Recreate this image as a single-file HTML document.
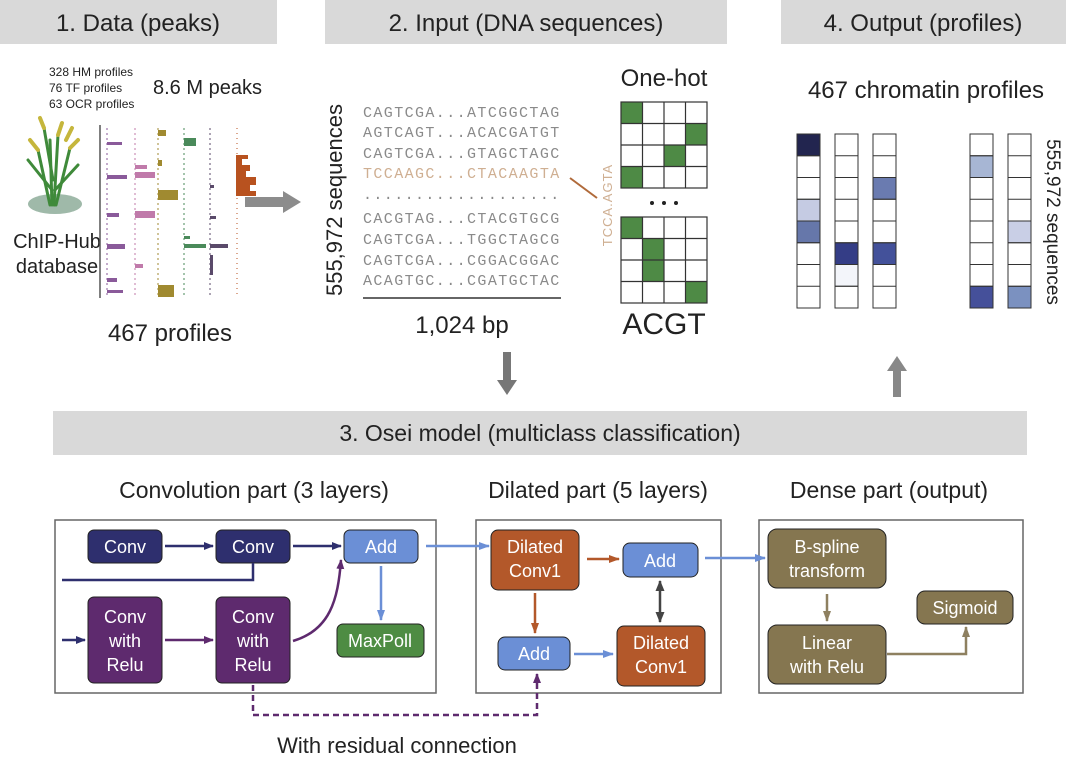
<!DOCTYPE html>
<html><head><meta charset="utf-8"><style>
html,body{margin:0;padding:0;background:#fff;}
svg{display:block;font-family:"Liberation Sans",sans-serif;}
</style></head><body>
<svg width="1080" height="764" viewBox="0 0 1080 764" xmlns="http://www.w3.org/2000/svg">
<defs>
<marker id="aN" markerWidth="10" markerHeight="10" refX="9" refY="5" orient="auto" markerUnits="userSpaceOnUse"><path d="M0,1 L10,5 L0,9z" fill="#2e2f6e"/></marker>
<marker id="aP" markerWidth="10" markerHeight="10" refX="9" refY="5" orient="auto" markerUnits="userSpaceOnUse"><path d="M0,1 L10,5 L0,9z" fill="#5e2a6e"/></marker>
<marker id="aB" markerWidth="11" markerHeight="10" refX="10" refY="5" orient="auto" markerUnits="userSpaceOnUse"><path d="M0,1 L11,5 L0,9z" fill="#6b8fd6"/></marker>
<marker id="aR" markerWidth="11" markerHeight="10" refX="10" refY="5" orient="auto" markerUnits="userSpaceOnUse"><path d="M0,1 L11,5 L0,9z" fill="#b3582a"/></marker>
<marker id="aO" markerWidth="11" markerHeight="10" refX="10" refY="5" orient="auto" markerUnits="userSpaceOnUse"><path d="M0,1 L11,5 L0,9z" fill="#8e8060"/></marker>
<marker id="aD" markerWidth="11" markerHeight="11" refX="10" refY="5.5" orient="auto-start-reverse" markerUnits="userSpaceOnUse"><path d="M0,1 L11,5.5 L0,10z" fill="#444"/></marker>
</defs>

<rect x="0" y="0" width="277" height="44" fill="#d9d9d9"/>
<rect x="325" y="0" width="402" height="44" fill="#d9d9d9"/>
<rect x="781" y="0" width="285" height="44" fill="#d9d9d9"/>
<g font-size="24" fill="#222" text-anchor="middle">
<text x="138" y="31">1. Data (peaks)</text>
<text x="526" y="31">2. Input (DNA sequences)</text>
<text x="923" y="31">4. Output (profiles)</text>
</g>

<g font-size="12" fill="#222">
<text x="49" y="76">328 HM profiles</text>
<text x="49" y="92">76 TF profiles</text>
<text x="49" y="108">63 OCR profiles</text>
</g>
<text x="153" y="94" font-size="20" fill="#222">8.6 M peaks</text>
<ellipse cx="55" cy="204" rx="27" ry="10" fill="#9fb9a9"/>
<g stroke="#3f8a3a" stroke-width="3" fill="none" stroke-linecap="round">
<path d="M52,205 L50,140"/><path d="M54,205 L58,135"/><path d="M50,205 L38,150"/><path d="M56,205 L70,148"/>
<path d="M52,190 L28,160"/><path d="M55,190 L78,165"/><path d="M53,180 L44,128"/>
</g>
<g stroke="#c5b63c" stroke-width="4" fill="none" stroke-linecap="round">
<path d="M44,128 L40,118"/><path d="M58,135 L62,123"/><path d="M38,150 L30,140"/><path d="M70,148 L78,140"/><path d="M66,140 L72,128"/>
</g>
<text x="57" y="248" font-size="20" fill="#222" text-anchor="middle">ChIP-Hub</text>
<text x="57" y="273" font-size="20" fill="#222" text-anchor="middle">database</text>
<line x1="100" y1="125" x2="100" y2="298" stroke="#555" stroke-width="1.5"/>
<g stroke-width="1">
<line x1="107" y1="128" x2="107" y2="296" stroke="#8a5a9a" stroke-dasharray="2,3"/>
<line x1="135" y1="128" x2="135" y2="296" stroke="#c07aaa" stroke-dasharray="2,3"/>
<line x1="158" y1="128" x2="158" y2="296" stroke="#a08a30" stroke-dasharray="2,3"/>
<line x1="184" y1="128" x2="184" y2="296" stroke="#4a8a5a" stroke-dasharray="2,3"/>
<line x1="210" y1="128" x2="210" y2="296" stroke="#5a4a6a" stroke-dasharray="2,3"/>
<line x1="237" y1="128" x2="237" y2="296" stroke="#b8521f" stroke-dasharray="1,4"/>
</g>
<g fill="#8a5a9a"><path d="M107,142 h15 v3 h-15z"/><path d="M107,175 h20 v4 h-20z"/><path d="M107,213 h12 v4 h-12z"/><path d="M107,244 h18 v5 h-18z"/><path d="M107,278 h10 v4 h-10z"/><path d="M107,290 h16 v3 h-16z"/></g>
<g fill="#c07aaa"><path d="M135,165 h12 v4 h-12z"/><path d="M135,172 h20 v6 h-20z"/><path d="M135,211 h20 v7 h-20z"/><path d="M135,264 h8 v4 h-8z"/></g>
<g fill="#a08a30"><path d="M158,130 h8 v6 h-8z"/><path d="M158,190 h20 v10 h-20z"/><path d="M158,285 h16 v12 h-16z"/><path d="M158,160 h4 v6 h-4z"/></g>
<g fill="#4a8a5a"><path d="M184,138 h12 v8 h-12z"/><path d="M184,244 h22 v4 h-22z"/><path d="M184,236 h6 v3 h-6z"/></g>
<g fill="#5a4a6a"><path d="M210,244 h18 v4 h-18z"/><path d="M210,216 h6 v3 h-6z"/><path d="M210,185 h4 v3 h-4z"/><path d="M210,255 h3 v20 h-3z"/></g>
<path d="M236,155 h12 v4 h-6 v6 h8 v6 h-4 v6 h10 v8 h-6 v6 h6 v5 h-20z" fill="#b8521f"/>
<text x="170" y="341" font-size="24" fill="#222" text-anchor="middle">467 profiles</text>
<path d="M245,197 h38 v-6 l18,11 l-18,11 v-6 h-38z" fill="#8c8c8c"/>

<text transform="translate(342,200) rotate(-90)" font-size="22" fill="#222" text-anchor="middle">555,972 sequences</text>
<g font-family="'Liberation Mono',monospace" font-size="15" fill="#8a8a8a" letter-spacing="1.4">
<text x="363" y="117">CAGTCGA...ATCGGCTAG</text>
<text x="363" y="137">AGTCAGT...ACACGATGT</text>
<text x="363" y="158">CAGTCGA...GTAGCTAGC</text>
<text x="363" y="178" fill="#cfaf92">TCCAAGC...CTACAAGTA</text>
<text x="363" y="199">...................</text>
<text x="363" y="223">CACGTAG...CTACGTGCG</text>
<text x="363" y="244">CAGTCGA...TGGCTAGCG</text>
<text x="363" y="265">CAGTCGA...CGGACGGAC</text>
<text x="363" y="285">ACAGTGC...CGATGCTAC</text>
</g>
<line x1="363" y1="298" x2="561" y2="298" stroke="#666" stroke-width="2"/>
<text x="462" y="333" font-size="24" fill="#222" text-anchor="middle">1,024 bp</text>
<line x1="570" y1="178" x2="597" y2="198" stroke="#b06a3a" stroke-width="2"/>
<text transform="translate(612,205) rotate(-90)" font-size="13" fill="#cfaf92" text-anchor="middle" letter-spacing="1">TCCA.AGTA</text>
<text x="664" y="86" font-size="24" fill="#222" text-anchor="middle">One-hot</text>
<g fill="#4e8a45">
<rect x="621" y="102" width="21.5" height="21.5"/><rect x="685.5" y="123.5" width="21.5" height="21.5"/><rect x="664" y="145" width="21.5" height="21.5"/><rect x="621" y="166.5" width="21.5" height="21.5"/>
<rect x="621" y="217" width="21.5" height="21.5"/><rect x="642.5" y="238.5" width="21.5" height="21.5"/><rect x="642.5" y="260" width="21.5" height="21.5"/><rect x="685.5" y="281.5" width="21.5" height="21.5"/>
</g>
<g stroke="#333" stroke-width="1.2" fill="none">
<rect x="621" y="102" width="86" height="86"/>
<path d="M642.5,102 V188 M664,102 V188 M685.5,102 V188 M621,123.5 H707 M621,145 H707 M621,166.5 H707"/>
<rect x="621" y="217" width="86" height="86"/>
<path d="M642.5,217 V303 M664,217 V303 M685.5,217 V303 M621,238.5 H707 M621,260 H707 M621,281.5 H707"/>
</g>
<g fill="#222"><circle cx="652" cy="203" r="2"/><circle cx="664" cy="203" r="2"/><circle cx="676" cy="203" r="2"/></g>
<text x="664" y="334" font-size="30" fill="#222" text-anchor="middle">ACGT</text>

<text x="926" y="98" font-size="24" fill="#222" text-anchor="middle">467 chromatin profiles</text>
<g stroke="#333" stroke-width="1" fill="#fff">
<rect x="797" y="134" width="23" height="174"/><rect x="835" y="134" width="23" height="174"/><rect x="873" y="134" width="23" height="174"/><rect x="970" y="134" width="23" height="174"/><rect x="1008" y="134" width="23" height="174"/>
<rect x="797" y="134" width="23" height="21.75" fill="#22254f"/>
<rect x="797" y="199.25" width="23" height="21.75" fill="#c5cbe3"/>
<rect x="797" y="221" width="23" height="21.75" fill="#6677aa"/>
<rect x="835" y="242.75" width="23" height="21.75" fill="#343d86"/>
<rect x="835" y="264.5" width="23" height="21.75" fill="#f3f5fa"/>
<rect x="873" y="177.5" width="23" height="21.75" fill="#6a7bb0"/>
<rect x="873" y="242.75" width="23" height="21.75" fill="#43519a"/>
<rect x="970" y="155.75" width="23" height="21.75" fill="#a7b6d4"/>
<rect x="970" y="286.25" width="23" height="21.75" fill="#45509a"/>
<rect x="1008" y="221" width="23" height="21.75" fill="#c9cfe6"/>
<rect x="1008" y="286.25" width="23" height="21.75" fill="#7b91c0"/>
<path id="rl" fill="none" d="M797,155.75h23M797,177.5h23M797,199.25h23M797,221h23M797,242.75h23M797,264.5h23M797,286.25h23"/>
<use href="#rl" x="38"/><use href="#rl" x="76"/><use href="#rl" x="173"/><use href="#rl" x="211"/>
</g>
<text transform="translate(1047,222) rotate(90)" font-size="19" fill="#222" text-anchor="middle">555,972 sequences</text>

<path d="M503,352 h8 v28 h6 l-10,15 l-10,-15 h6z" fill="#777"/>
<path d="M893,397 h8 v-26 h6 l-10,-15 l-10,15 h6z" fill="#888"/>

<rect x="53" y="411" width="974" height="44" fill="#d9d9d9"/>
<text x="540" y="441" font-size="23" fill="#222" text-anchor="middle">3. Osei model (multiclass classification)</text>
<g font-size="23" fill="#222" text-anchor="middle">
<text x="254" y="498">Convolution part (3 layers)</text>
<text x="598" y="498">Dilated part (5 layers)</text>
<text x="889" y="498">Dense part (output)</text>
</g>

<g fill="none" stroke="#666" stroke-width="1.5">
<rect x="55" y="520" width="381" height="173"/>
<rect x="476" y="520" width="245" height="173"/>
<rect x="759" y="520" width="264" height="173"/>
</g>

<g stroke="#222" stroke-width="1">
<rect x="88" y="530" width="74" height="33" rx="6" fill="#2e2f6e"/>
<rect x="216" y="530" width="74" height="33" rx="6" fill="#2e2f6e"/>
<rect x="344" y="530" width="74" height="33" rx="6" fill="#6b8fd6"/>
<rect x="88" y="597" width="74" height="86" rx="6" fill="#5e2a6e"/>
<rect x="216" y="597" width="74" height="86" rx="6" fill="#5e2a6e"/>
<rect x="337" y="624" width="87" height="33" rx="6" fill="#4e8c43"/>
</g>
<g fill="#fff" font-size="18" text-anchor="middle">
<text x="125" y="553">Conv</text><text x="253" y="553">Conv</text><text x="381" y="553">Add</text>
<text x="125" y="623">Conv</text><text x="125" y="647">with</text><text x="125" y="671">Relu</text>
<text x="253" y="623">Conv</text><text x="253" y="647">with</text><text x="253" y="671">Relu</text>
<text x="380" y="647">MaxPoll</text>
</g>
<g fill="none" stroke-width="2.5">
<line x1="165" y1="546" x2="213" y2="546" stroke="#2e2f6e" marker-end="url(#aN)"/>
<line x1="293" y1="546" x2="341" y2="546" stroke="#2e2f6e" marker-end="url(#aN)"/>
<path d="M253,563 V580 H62" stroke="#2e2f6e"/>
<line x1="62" y1="640" x2="85" y2="640" stroke="#2e2f6e" marker-end="url(#aN)"/>
<line x1="165" y1="640" x2="213" y2="640" stroke="#5e2a6e" marker-end="url(#aP)"/>
<path d="M293,641 C330,630 338,600 341,560" stroke="#5e2a6e" marker-end="url(#aP)"/>
<line x1="381" y1="566" x2="381" y2="620" stroke="#6b8fd6" marker-end="url(#aB)"/>
<line x1="426" y1="546" x2="489" y2="546" stroke="#6b8fd6" marker-end="url(#aB)"/>
<path d="M253,685 V715 H537 V674" stroke="#5e2a6e" stroke-dasharray="6,4" marker-end="url(#aP)"/>
</g>
<text x="397" y="753" font-size="22" fill="#222" text-anchor="middle">With residual connection</text>

<g stroke="#222" stroke-width="1">
<rect x="491" y="530" width="88" height="60" rx="7" fill="#b3582a"/>
<rect x="623" y="543" width="75" height="34" rx="7" fill="#6b8fd6"/>
<rect x="498" y="637" width="72" height="33" rx="7" fill="#6b8fd6"/>
<rect x="617" y="626" width="88" height="60" rx="7" fill="#b3582a"/>
</g>
<g fill="#fff" font-size="18" text-anchor="middle">
<text x="535" y="553">Dilated</text><text x="535" y="577">Conv1</text>
<text x="660" y="567">Add</text><text x="534" y="660">Add</text>
<text x="661" y="649">Dilated</text><text x="661" y="673">Conv1</text>
</g>
<g fill="none" stroke-width="2.5">
<line x1="587" y1="559" x2="619" y2="559" stroke="#b3582a" marker-end="url(#aR)"/>
<line x1="535" y1="593" x2="535" y2="633" stroke="#b3582a" marker-end="url(#aR)"/>
<line x1="574" y1="654" x2="613" y2="654" stroke="#6b8fd6" marker-end="url(#aB)"/>
<line x1="660" y1="581" x2="660" y2="622" stroke="#444" marker-end="url(#aD)" marker-start="url(#aD)"/>
<line x1="705" y1="558" x2="765" y2="558" stroke="#6b8fd6" marker-end="url(#aB)"/>
</g>

<g stroke="#222" stroke-width="1">
<rect x="768" y="529" width="118" height="59" rx="9" fill="#857650"/>
<rect x="768" y="625" width="118" height="59" rx="9" fill="#857650"/>
<rect x="917" y="591" width="96" height="33" rx="8" fill="#857650"/>
</g>
<g fill="#fff" font-size="18" text-anchor="middle">
<text x="827" y="553">B-spline</text><text x="827" y="577">transform</text>
<text x="827" y="649">Linear</text><text x="827" y="673">with Relu</text>
<text x="965" y="614">Sigmoid</text>
</g>
<g fill="none" stroke-width="2.5" stroke="#8e8060">
<line x1="827" y1="594" x2="827" y2="621" marker-end="url(#aO)"/>
<path d="M887,654 H966 V627" marker-end="url(#aO)"/>
</g>
</svg>
</body></html>
